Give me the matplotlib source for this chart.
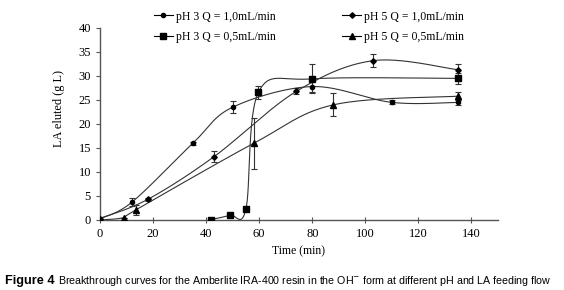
import numpy as np
import matplotlib.pyplot as plt
from matplotlib.lines import Line2D

# time (min) and LA eluted (g/L)
t_ph3_q10 = [0, 12, 35, 50, 80, 110, 135]
la_ph3_q10 = [0.3, 3.7, 16.0, 23.5, 27.8, 24.5, 24.5]
err_ph3_q10 = [0.0, 0.8, 0.3, 1.3, 1.1, 0.4, 0.5]

t_ph3_q05 = [42, 49, 55, 59.7, 80, 135]
la_ph3_q05 = [0.1, 1.0, 2.3, 26.6, 29.4, 29.5]
err_ph3_q05 = [0.0, 0.0, 0.0, 1.4, 3.0, 1.2]

t_ph5_q10 = [0, 18, 43, 74, 103, 135]
la_ph5_q10 = [0.3, 4.3, 13.2, 26.8, 33.2, 31.3]
err_ph5_q10 = [0.0, 0.3, 1.1, 0.6, 1.4, 1.2]

t_ph5_q05 = [0, 9, 13.5, 58, 88, 135]
la_ph5_q05 = [0.0, 0.5, 2.1, 16.0, 24.0, 25.8]
err_ph5_q05 = [0.0, 0.0, 1.0, 5.3, 2.4, 0.9]

XMAX, YMAX = 150, 40


def smooth(x, y, n=30):
    # uniform Catmull-Rom through the points (like a spreadsheet "smoothed line")
    p = np.column_stack([np.asarray(x, float) / XMAX, np.asarray(y, float) / YMAX])
    p = np.vstack([p[0], p, p[-1]])
    out = []
    s = np.linspace(0, 1, n)[:, None]
    for i in range(1, len(p) - 2):
        p0, p1, p2, p3 = p[i - 1], p[i], p[i + 1], p[i + 2]
        seg = 0.5 * ((2 * p1) + (-p0 + p2) * s + (2 * p0 - 5 * p1 + 4 * p2 - p3) * s ** 2
                     + (-p0 + 3 * p1 - 3 * p2 + p3) * s ** 3)
        out.append(seg)
    out = np.vstack(out)
    return out[:, 0] * XMAX, out[:, 1] * YMAX


plt.rcParams['font.family'] = ['Liberation Serif', 'DejaVu Serif']
fig = plt.figure(figsize=(5.64, 2.90), dpi=100)
ax = fig.add_axes([100 / 564, 70 / 290, 398 / 564, 192 / 290])

series = [
    (t_ph3_q10, la_ph3_q10, err_ph3_q10, 'o', 3.0, 'pH 3 Q = 1,0mL/min'),
    (t_ph3_q05, la_ph3_q05, err_ph3_q05, 's', 4.2, 'pH 3 Q = 0,5mL/min'),
    (t_ph5_q10, la_ph5_q10, err_ph5_q10, 'D', 2.8, 'pH 5 Q = 1,0mL/min'),
    (t_ph5_q05, la_ph5_q05, err_ph5_q05, '^', 4.6, 'pH 5 Q = 0,5mL/min'),
]

handles = []
for t, la, err, mk, ms, lab in series:
    sx, sy = smooth(t, la)
    ax.plot(sx, sy, color='#333333', lw=0.8, zorder=2)
    ax.errorbar(t, la, yerr=err, fmt=mk, ms=ms, color='black', ecolor='#333333',
                elinewidth=0.8, capsize=2, capthick=0.8, zorder=3)
    handles.append(Line2D([], [], color='black', lw=0.8, marker=mk, ms=ms, label=lab))

ax.set_xlim(0, XMAX)
ax.set_ylim(0, YMAX)
ax.set_xticks(range(0, 141, 20))
ax.set_yticks(range(0, 41, 5))
for side in ('top', 'right'):
    ax.spines[side].set_visible(False)
for side in ('left', 'bottom'):
    ax.spines[side].set_color('#555555')
    ax.spines[side].set_linewidth(1.0)
ax.tick_params(axis='both', labelsize=9, length=3, width=0.8, color='#555555')
ax.tick_params(axis='x', direction='inout', length=4)
ax.set_xlabel('Time (min)', fontsize=8.5, labelpad=4)
ax.set_ylabel('LA eluted (g L)', fontsize=8.8, labelpad=6)
ax.xaxis.set_label_coords(0.5, -0.13)
ax.yaxis.set_label_coords(-0.088, 0.58)

fig.legend(handles=handles, ncol=2, loc='upper center', bbox_to_anchor=(0.548, 1.0),
           frameon=False, fontsize=8.5, handlelength=1.6, handletextpad=0.3,
           columnspacing=5.6, labelspacing=0.75)

fig.text(5 / 564, 0.022, 'Figure 4', family='Liberation Sans', fontsize=9.2, fontweight='bold')
fig.text(58 / 564, 0.022, 'Breakthrough curves for the Amberlite IRA-400 resin in the OH$^{-}$ form '
         'at different pH and LA feeding flow', family='Liberation Sans', fontsize=7.7)

fig.savefig('out.png', dpi=100)
